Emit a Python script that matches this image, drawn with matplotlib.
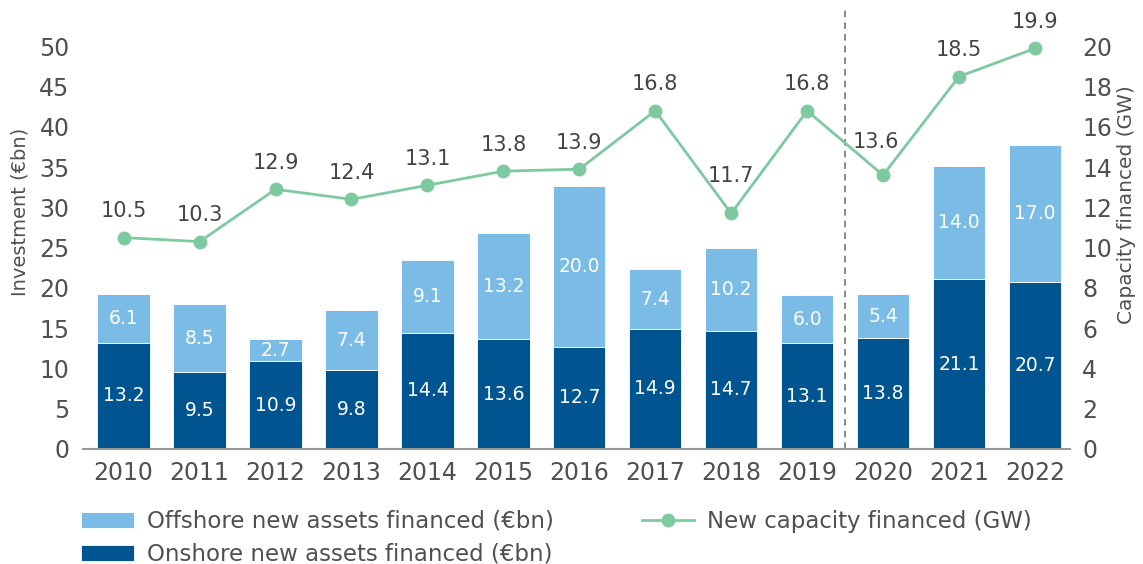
import matplotlib.pyplot as plt
import numpy as np

plt.rcParams['font.family'] = ['DejaVu Sans']

years = ['2010', '2011', '2012', '2013', '2014', '2015', '2016',
         '2017', '2018', '2019', '2020', '2021', '2022']
onshore = [13.2, 9.5, 10.9, 9.8, 14.4, 13.6, 12.7, 14.9, 14.7, 13.1, 13.8, 21.1, 20.7]
offshore = [6.1, 8.5, 2.7, 7.4, 9.1, 13.2, 20.0, 7.4, 10.2, 6.0, 5.4, 14.0, 17.0]
capacity = [10.5, 10.3, 12.9, 12.4, 13.1, 13.8, 13.9, 16.8, 11.7, 16.8, 13.6, 18.5, 19.9]

# small nudges (points) for capacity labels near the bars / dashed divider
label_lift = {8: 8, 10: 5}
label_shift = {10: -5}

dark_blue = '#00548f'
light_blue = '#7abce6'
green = '#7ecaa0'
grey = '#505050'

x = np.arange(len(years))

fig = plt.figure(figsize=(11.43, 5.64), dpi=100)
ax = fig.add_axes([0.073, 0.204, 0.863, 0.778])
ax2 = ax.twinx()

bars_on = ax.bar(x, onshore, width=0.69, color=dark_blue, edgecolor='white', linewidth=0.6,
                 label='Onshore new assets financed (€bn)')
bars_off = ax.bar(x, offshore, width=0.69, bottom=onshore, color=light_blue, edgecolor='white',
                  linewidth=0.6, label='Offshore new assets financed (€bn)')

for i in range(len(years)):
    ax.text(x[i], onshore[i] / 2, f'{onshore[i]:.1f}', ha='center', va='center',
            color='white', fontsize=13.5)
    ax.text(x[i], onshore[i] + offshore[i] / 2, f'{offshore[i]:.1f}', ha='center', va='center',
            color='white', fontsize=13.5)

line, = ax2.plot(x, capacity, color=green, lw=2, marker='o', markersize=9,
                 label='New capacity financed (GW)')
for i, v in enumerate(capacity):
    ax2.annotate(f'{v:.1f}', (x[i], v),
                 xytext=(label_shift.get(i, 0), 19 + label_lift.get(i, 0)),
                 textcoords='offset points', ha='center', va='center',
                 fontsize=15, color='#444444')

ax.axvline(9.5, color='#777777', lw=1.2, ls=(0, (4, 3)))

ax.set_xlim(-0.53, 12.46)
ax.set_ylim(0, 54.5)
ax2.set_ylim(0, 21.8)
ax.set_yticks(np.arange(0, 51, 5))
ax2.set_yticks(np.arange(0, 21, 2))
ax.set_xticks(x)
ax.set_xticklabels(years)

for a in (ax, ax2):
    for s in ('top', 'left', 'right'):
        a.spines[s].set_visible(False)
    a.spines['bottom'].set_color('#999999')
    a.spines['bottom'].set_linewidth(1.5)
    a.tick_params(length=0, labelsize=17, labelcolor=grey, pad=9)
ax2.spines['bottom'].set_visible(False)
ax.tick_params(axis='y', pad=10)

ax.set_ylabel('Investment (€bn)', fontsize=14, color=grey)
ax2.set_ylabel('Capacity financed (GW)', fontsize=14.5, color=grey)
ax.yaxis.set_label_coords(-0.055, 0.54)
ax2.yaxis.set_label_coords(1.048, 0.556)

fig.legend([bars_off, bars_on, line],
           ['Offshore new assets financed (€bn)', 'Onshore new assets financed (€bn)',
            'New capacity financed (GW)'],
           loc='lower left', bbox_to_anchor=(0.053, -0.04), ncol=2, frameon=False,
           fontsize=16.5, labelcolor=grey, handlelength=2.3, handleheight=0.7,
           handletextpad=0.55, columnspacing=3.85, labelspacing=0.45)

fig.savefig('out.png', dpi=100)
